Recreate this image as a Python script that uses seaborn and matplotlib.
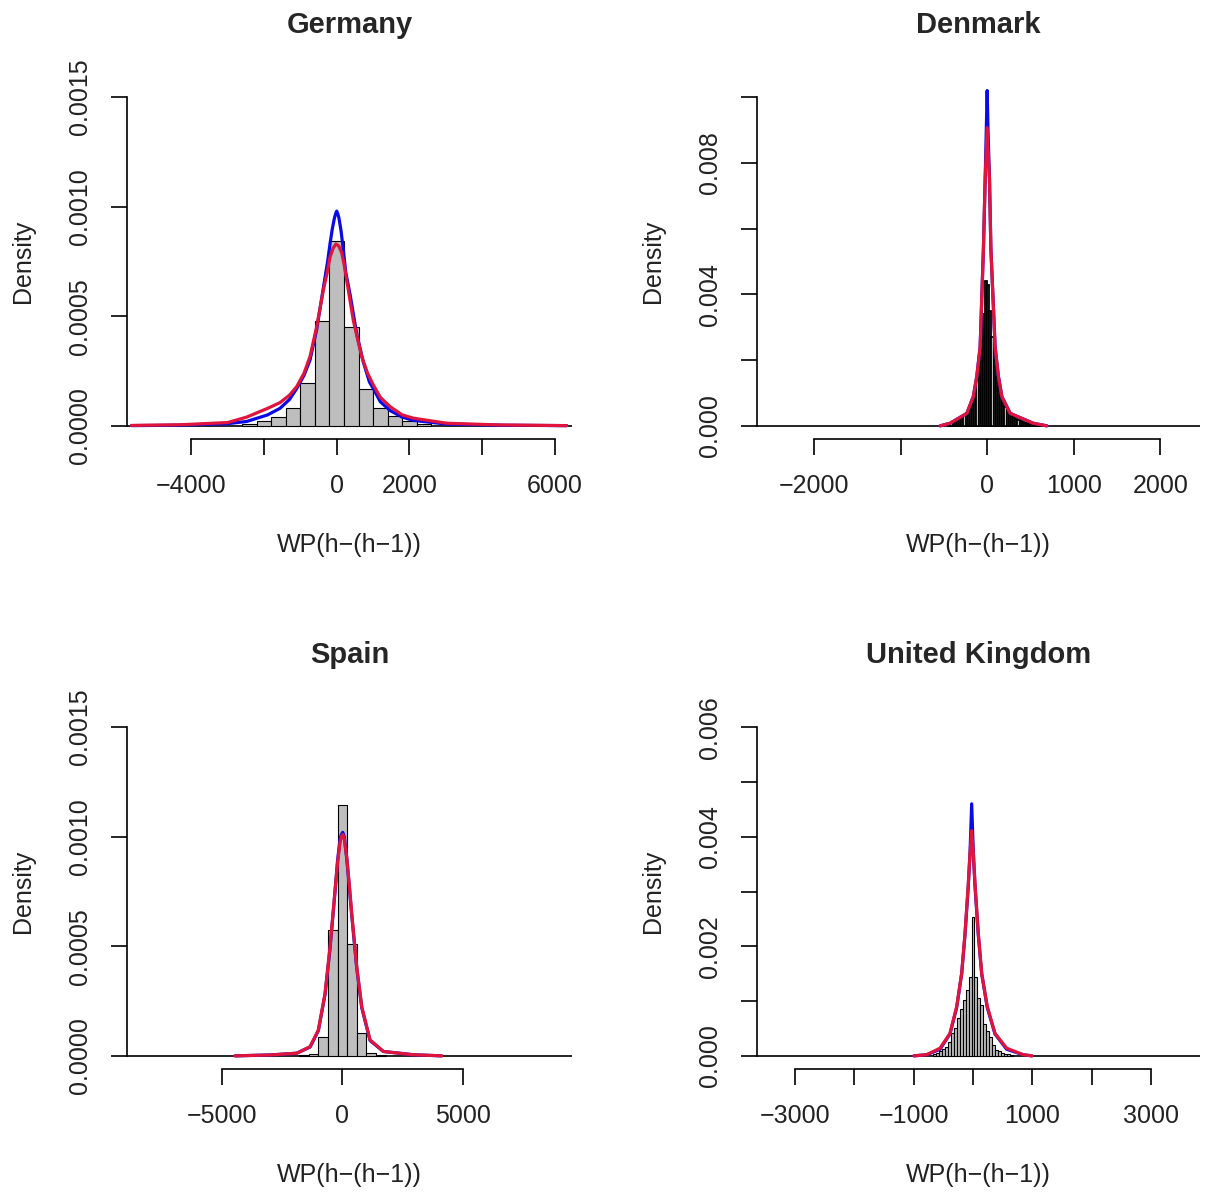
import numpy as np
import pandas as pd
import matplotlib
matplotlib.use("Agg")
import matplotlib.pyplot as plt
import seaborn as sns

sns.set_style("ticks")
plt.rcParams["font.family"] = ["Liberation Sans", "DejaVu Sans"]
plt.rcParams["axes.unicode_minus"] = True

# ---------------- data ----------------
countries = ["Germany", "Denmark", "Spain", "United Kingdom"]
x_label = "WP(h\u2212(h\u22121))"
y_label = "Density"

# Germany
de_bin_width = 400
de_bin_centers = [-2400, -2000, -1600, -1200, -800, -400, 0, 400, 800, 1200, 1600, 2000, 2400]
de_hist = [0.00001, 0.00002, 0.0000424, 0.0000805, 0.000197, 0.00048, 0.000843,
           0.000453, 0.000169, 0.0000805, 0.0000456, 0.00002, 0.00001]
de_fit_x = [-5645, -4306, -3000, -2475, -1900, -1559, -1300, -1100, -900, -734, -550,
            -367, -250, -184, -120, -60, -25, 0, 25, 60, 120, 184, 250, 367, 550, 734,
            900, 1006, 1200, 1466, 1800, 2107, 3025, 4500, 6325]
de_fit_y = [0.000001, 0.000003, 0.00001, 0.00002, 0.00005, 0.00008, 0.00012, 0.00017,
            0.00023, 0.0003, 0.00044, 0.00063, 0.00075, 0.00083, 0.0009, 0.00095,
            0.00097, 0.00098, 0.00097, 0.00095, 0.00089, 0.0008, 0.0007, 0.0006,
            0.00042, 0.00029, 0.0002, 0.00017, 0.00011, 0.00007, 0.00004, 0.000025,
            0.000008, 0.000003, 0.000001]
de_kde_x = [-5645, -4306, -3000, -2475, -1900, -1559, -1300, -1100, -900, -734, -550,
            -367, -260, -184, -100, -20, 60, 137, 200, 275, 458, 687, 850, 1006, 1200,
            1466, 1800, 2107, 3025, 4500, 6325]
de_kde_y = [0.000002, 0.000005, 0.000015, 0.00004, 0.00008, 0.000106, 0.00014, 0.000179,
            0.00024, 0.000316, 0.000453, 0.00062, 0.0007, 0.00077, 0.00081, 0.00083,
            0.00082, 0.00079, 0.00074, 0.000665, 0.00048, 0.000316, 0.00024, 0.000187,
            0.00013, 0.000088, 0.00005, 0.000035, 0.000012, 0.000004, 0.000001]

# Denmark
dk_bin_width = 25
dk_bin_centers = [-437.5, -412.5, -387.5, -362.5, -337.5, -312.5, -287.5, -262.5,
                  -237.5, -212.5, -187.5, -162.5, -137.5, -112.5, -87.5, -62.5, -37.5,
                  -12.5, 12.5, 37.5, 62.5, 87.5, 112.5, 137.5, 162.5, 187.5, 212.5,
                  237.5, 262.5, 287.5, 312.5, 337.5, 362.5, 387.5, 412.5, 437.5, 462.5,
                  487.5, 512.5, 537.5, 562.5, 587.5, 612.5, 637.5, 662.5, 687.5]
dk_hist = [0.00006, 0.00008, 0.0001, 0.00013, 0.00016, 0.0002, 0.00026, 0.00032,
           0.0004, 0.0005, 0.00062, 0.0008, 0.0011, 0.0014, 0.0019, 0.0026, 0.0034,
           0.0044, 0.0043, 0.0035, 0.0027, 0.002, 0.0015, 0.0012, 0.00092, 0.00072,
           0.00058, 0.00047, 0.00038, 0.00031, 0.00026, 0.00021, 0.00017, 0.00014,
           0.00012, 0.0001, 0.00009, 0.00007, 0.00006, 0.00005, 0.00004, 0.00003,
           0.00003, 0.00002, 0.00002, 0.00001]
dk_fit_x = [-543, -428, -235, -160, -120, -81, -43, -23, -10, 0, 10, 27, 43, 92, 130, 170, 266, 532, 690]
dk_fit_y = [0.0, 0.00008, 0.00038, 0.00089, 0.0015, 0.0024, 0.0054, 0.0075, 0.0090,
            0.0102, 0.0090, 0.0075, 0.0054, 0.0024, 0.0015, 0.00089, 0.00038, 0.00008, 0.0]
dk_kde_x = [-543, -428, -235, -160, -120, -81, -43, -23, 0, 27, 43, 92, 130, 170, 266, 532, 690]
dk_kde_y = [0.0, 0.00008, 0.00038, 0.00089, 0.0015, 0.0024, 0.0054, 0.0075, 0.00907,
            0.0075, 0.0054, 0.0024, 0.0015, 0.00089, 0.00038, 0.00008, 0.0]

# Spain
es_bin_width = 400
es_bin_centers = [-1600, -1200, -800, -400, 0, 400, 800, 1200, 1600]
es_hist = [0.000004, 0.00001, 0.0000877, 0.000573, 0.001145, 0.000512, 0.000106, 0.000015, 0.000005]
es_fit_x = [-4464, -3000, -1897, -1344, -998, -720, -512, -304, -200, -96, -40, 17, 80,
            183, 290, 391, 599, 807, 1152, 1706, 2954, 4135]
es_fit_y = [0.0, 0.000004, 0.000012, 0.00004, 0.000115, 0.00028, 0.00049, 0.00075,
            0.00089, 0.00099, 0.00101, 0.00102, 0.001, 0.0009, 0.00077, 0.00064, 0.0004,
            0.00022, 0.00007, 0.00002, 0.000005, 0.0]
es_kde_x = [-4464, -3000, -1897, -1344, -998, -720, -512, -304, -200, -96, -40, 17, 80,
            183, 290, 391, 599, 807, 1152, 1706, 2954, 4135]
es_kde_y = [0.0, 0.000004, 0.000012, 0.000042, 0.000118, 0.000285, 0.000497, 0.000755,
            0.00088, 0.000974, 0.001, 0.00101, 0.00099, 0.000906, 0.00078, 0.000649,
            0.000406, 0.000224, 0.000073, 0.00002, 0.000005, 0.0]

# United Kingdom
uk_bin_width = 50
uk_bin_centers = [-650, -600, -550, -500, -450, -400, -350, -300, -250, -200, -150, -100, -50, 0,
                  50, 100, 150, 200, 250, 300, 350, 400, 450, 500, 550, 600, 650]
uk_hist = [0.00003, 0.00005, 0.00008, 0.00012, 0.00017, 0.00025, 0.00041, 0.0005, 0.00069,
           0.00085, 0.00102, 0.0012, 0.00144, 0.00253, 0.00144, 0.00105, 0.00093, 0.00059,
           0.00045, 0.00035, 0.0002, 0.00011, 0.00008, 0.00006, 0.00004, 0.00003, 0.00002]
uk_fit_x = [-995, -781, -556, -388, -275, -191, -135, -79, -50, -22, 6, 34, 90, 147, 241, 371, 568, 848, 995]
uk_fit_y = [0.0, 0.00002, 0.00012, 0.0004, 0.00088, 0.0015, 0.0022, 0.0031, 0.0037,
            0.0046, 0.0037, 0.0031, 0.0022, 0.0015, 0.00088, 0.0004, 0.00012, 0.00002, 0.0]
uk_kde_x = [-995, -781, -556, -388, -275, -191, -135, -79, -50, -22, 6, 34, 90, 147, 241, 371, 568, 848, 995]
uk_kde_y = [0.0, 0.00002, 0.00014, 0.00041, 0.0009, 0.0015, 0.00223, 0.00314, 0.0037,
            0.00411, 0.0037, 0.00314, 0.00223, 0.0015, 0.0009, 0.00041, 0.00014, 0.00002, 0.0]

# axis ticks and their printed labels (blank where the label is not printed)
de_xticks = [-4000, -2000, 0, 2000, 4000, 6000]
de_xlabels = ["\u22124000", "", "0", "2000", "", "6000"]
de_yticks = [0, 0.0005, 0.001, 0.0015]
de_ylabels = ["0.0000", "0.0005", "0.0010", "0.0015"]

dk_xticks = [-2000, -1000, 0, 1000, 2000]
dk_xlabels = ["\u22122000", "", "0", "1000", "2000"]
dk_yticks = [0, 0.002, 0.004, 0.006, 0.008, 0.010]
dk_ylabels = ["0.000", "", "0.004", "", "0.008", ""]

es_xticks = [-5000, 0, 5000]
es_xlabels = ["\u22125000", "0", "5000"]
es_yticks = [0, 0.0005, 0.001, 0.0015]
es_ylabels = ["0.0000", "0.0005", "0.0010", "0.0015"]

uk_xticks = [-3000, -2000, -1000, 0, 1000, 2000, 3000]
uk_xlabels = ["\u22123000", "", "\u22121000", "", "1000", "", "3000"]
uk_yticks = [0, 0.001, 0.002, 0.003, 0.004, 0.005, 0.006]
uk_ylabels = ["0.000", "", "0.002", "", "0.004", "", "0.006"]

# ---------------- layout ----------------
W, H = 1205, 1193
fig = plt.figure(figsize=(W / 100, H / 100), dpi=100)

# plot regions in pixels: left, top, right, bottom
regions = {
    "Germany": (127, 84, 572, 439),
    "Denmark": (757, 84, 1200, 439),
    "Spain": (127, 714, 572, 1069),
    "United Kingdom": (757, 714, 1200, 1069),
}

panels = {
    "Germany": dict(bw=de_bin_width, bc=de_bin_centers, h=de_hist, fx=de_fit_x, fy=de_fit_y,
                    kx=de_kde_x, ky=de_kde_y, xt=de_xticks, xl=de_xlabels, yt=de_yticks,
                    yl=de_ylabels, xlim=(-5767, 6471), elw=0.8),
    "Denmark": dict(bw=dk_bin_width, bc=dk_bin_centers, h=dk_hist, fx=dk_fit_x, fy=dk_fit_y,
                    kx=dk_kde_x, ky=dk_kde_y, xt=dk_xticks, xl=dk_xlabels, yt=dk_yticks,
                    yl=dk_ylabels, xlim=(-2660, 2460), elw=1.3),
    "Spain": dict(bw=es_bin_width, bc=es_bin_centers, h=es_hist, fx=es_fit_x, fy=es_fit_y,
                  kx=es_kde_x, ky=es_kde_y, xt=es_xticks, xl=es_xlabels, yt=es_yticks,
                  yl=es_ylabels, xlim=(-8960, 9555), elw=0.8),
    "United Kingdom": dict(bw=uk_bin_width, bc=uk_bin_centers, h=uk_hist, fx=uk_fit_x, fy=uk_fit_y,
                           kx=uk_kde_x, ky=uk_kde_y, xt=uk_xticks, xl=uk_xlabels, yt=uk_yticks,
                           yl=uk_ylabels, xlim=(-3642, 3828), elw=0.8),
}

FS = 18
LW_AX = 1.2
BLUE = "#0a0ae6"
RED = "#e0143c"
TXT = "#222222"

for name in countries:
    p = panels[name]
    l, t, r, b = regions[name]
    ax = fig.add_axes([l / W, 1 - b / H, (r - l) / W, (b - t) / H])

    hist_df = pd.DataFrame({"value": p["bc"], "dens": p["h"]})
    half = p["bw"] / 2
    edges = [c - half for c in p["bc"]] + [p["bc"][-1] + half]
    sns.histplot(data=hist_df, x="value", weights="dens", bins=edges, stat="count",
                 color="#bebebe", edgecolor="black", linewidth=p["elw"], alpha=1,
                 ax=ax, zorder=2)

    ax.axhline(0, color="black", lw=LW_AX, zorder=1.5)

    fit_df = pd.DataFrame({"x": p["fx"], "y": p["fy"]})
    kde_df = pd.DataFrame({"x": p["kx"], "y": p["ky"]})
    sns.lineplot(data=fit_df, x="x", y="y", color=BLUE, linewidth=2.3, sort=False,
                 estimator=None, ax=ax, zorder=3)
    sns.lineplot(data=kde_df, x="x", y="y", color=RED, linewidth=2.3, sort=False,
                 estimator=None, ax=ax, zorder=4)

    ymax = p["yt"][-1]
    ax.set_xlim(*p["xlim"])
    ax.set_ylim(-0.04 * ymax, 1.04 * ymax)

    for s in ("top", "right"):
        ax.spines[s].set_visible(False)
    ax.spines["left"].set_bounds(0, ymax)
    ax.spines["bottom"].set_bounds(p["xt"][0], p["xt"][-1])
    for s in ("left", "bottom"):
        ax.spines[s].set_linewidth(LW_AX)
        ax.spines[s].set_color("black")

    ax.set_xticks(p["xt"])
    ax.set_xticklabels(p["xl"])
    ax.set_yticks(p["yt"])
    ax.set_yticklabels(p["yl"])
    ax.tick_params(axis="both", direction="out", length=11.5, width=LW_AX,
                   color="black", labelsize=FS, labelcolor=TXT)
    ax.tick_params(axis="x", pad=14)
    ax.tick_params(axis="y", pad=13.5, labelrotation=90)
    for lab in ax.get_yticklabels():
        lab.set_va("center")
        lab.set_ha("right")

    ax.set_title(name, fontsize=21, fontweight="bold", pad=37)
    ax.set_xlabel(x_label, fontsize=FS, color=TXT)
    ax.set_ylabel(y_label, fontsize=FS, color=TXT)
    ax.xaxis.set_label_coords(0.5, -106 / (b - t))
    ax.xaxis.label.set_va("center")
    ax.yaxis.set_label_coords(-104 / (r - l), 0.5)
    ax.yaxis.label.set_va("center")
    ax.yaxis.label.set_ha("center")
    ax.yaxis.label.set_rotation_mode("default")

fig.savefig("out.png", dpi=100, facecolor="white")
